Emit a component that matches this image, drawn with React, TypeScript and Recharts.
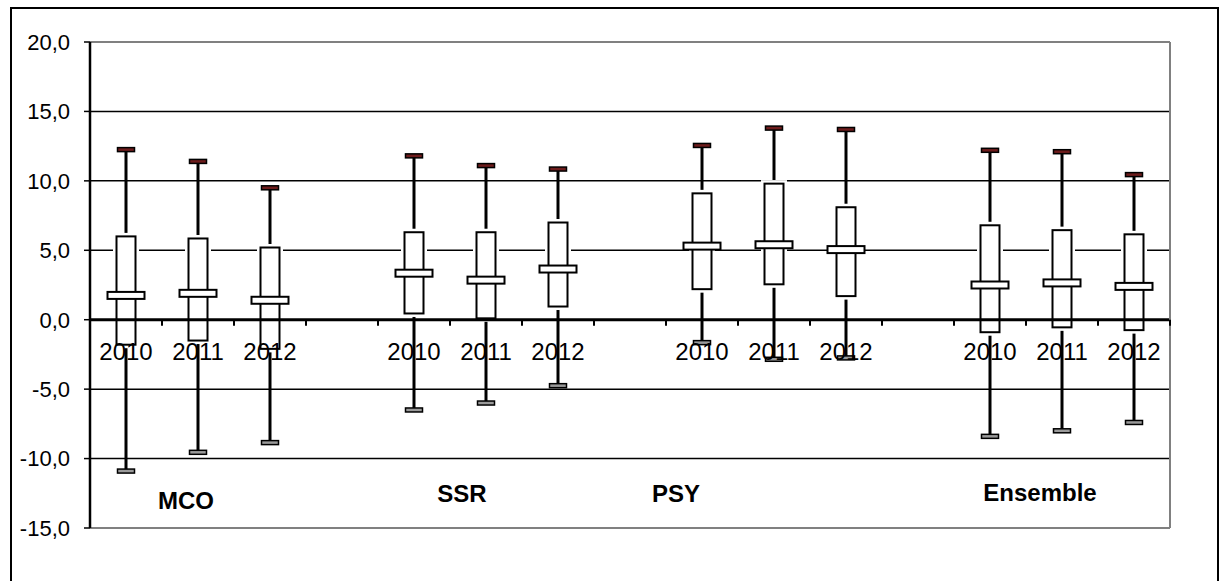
import React from 'react'
import { Bar, CartesianGrid, ComposedChart, ReferenceLine, XAxis, YAxis } from 'recharts'

// one slot per category, empty slots separate the groups
const yearLabels = ['2010', '2011', '2012', '', '2010', '2011', '2012', '', '2010', '2011', '2012', '', '2010', '2011', '2012']
const highs = [12.25, 11.4, 9.5, null, 11.8, 11.1, 10.85, null, 12.55, 13.8, 13.7, null, 12.2, 12.1, 10.45]
const q3s = [6.0, 5.85, 5.2, null, 6.3, 6.3, 7.0, null, 9.1, 9.8, 8.1, null, 6.8, 6.45, 6.15]
const medians = [1.75, 1.9, 1.4, null, 3.35, 2.85, 3.65, null, 5.3, 5.4, 5.05, null, 2.5, 2.65, 2.4]
const q1s = [-1.8, -1.5, -2.1, null, 0.45, 0.1, 0.95, null, 2.2, 2.55, 1.7, null, -0.9, -0.55, -0.75]
const lows = [-10.9, -9.55, -8.85, null, -6.5, -6.0, -4.75, null, -1.65, -2.85, -2.75, null, -8.4, -8.0, -7.4]
const groupNames = ['MCO', 'SSR', 'PSY', 'Ensemble']
const yTicks = [-15, -10, -5, 0, 5, 10, 15, 20]

const data = yearLabels.map((year, i) => ({
  key: 'c' + i,
  year,
  high: highs[i],
  q3: q3s[i],
  median: medians[i],
  q1: q1s[i],
  low: lows[i],
  range: highs[i] == null ? null : [lows[i], highs[i]],
}))

const CHART_W = 1205
const CHART_H = 570
const margin = { top: 33, right: 46, left: 0, bottom: 50 }
const Y_AXIS_W = 78
const Y_MIN = yTicks[0]
const Y_MAX = yTicks[yTicks.length - 1]
const PLOT_W = CHART_W - margin.left - margin.right - Y_AXIS_W - 1
const PLOT_H = CHART_H - margin.top - margin.bottom - 1
const BAND = PLOT_W / yearLabels.length
const ZERO_Y = margin.top + (PLOT_H * Y_MAX) / (Y_MAX - Y_MIN)
const FONT = '"Liberation Sans", Arial, sans-serif'

// label positions of the group names (page coordinates)
const groupLabelPos = [
  { left: 186, top: 501 },
  { left: 462, top: 494 },
  { left: 676, top: 494 },
  { left: 1040, top: 493 },
]

function BoxShape(props: any) {
  const { x, y, width, height, payload } = props
  if (payload == null || payload.high == null) return null
  const top = Math.min(y, y + height)
  const bottom = Math.max(y, y + height)
  const k = (bottom - top) / (payload.high - payload.low)
  const py = (v: number) => top + (payload.high - v) * k
  const cx = x + width / 2
  const boxW = 19
  const medW = 37
  const capW = 17
  return (
    <g>
      <line x1={cx} x2={cx} y1={py(payload.high)} y2={py(payload.low)} stroke='#000' strokeWidth={3} />
      <rect x={cx - boxW / 2} y={py(payload.q3)} width={boxW} height={py(payload.q1) - py(payload.q3)}
        fill='#fff' stroke='#fff' strokeWidth={7} />
      <rect x={cx - boxW / 2} y={py(payload.q3)} width={boxW} height={py(payload.q1) - py(payload.q3)}
        fill='#fff' stroke='#000' strokeWidth={2} />
      <rect x={cx - medW / 2} y={py(payload.median) - 3.5} width={medW} height={7}
        fill='#fff' stroke='#000' strokeWidth={2} />
      <rect x={cx - capW / 2} y={py(payload.high) - 2} width={capW} height={4}
        fill='#6e1c1c' stroke='#000' strokeWidth={1.5} />
      <rect x={cx - capW / 2} y={py(payload.low) - 2} width={capW} height={4}
        fill='#9a9a9a' stroke='#000' strokeWidth={1.5} />
    </g>
  )
}

function YearTick(props: any) {
  const { x, index } = props
  const last = index === yearLabels.length - 1
  return (
    <g>
      <line x1={x - BAND / 2} x2={x - BAND / 2} y1={ZERO_Y} y2={ZERO_Y + 6} stroke='#000' strokeWidth={2} />
      {last && <line x1={x + BAND / 2} x2={x + BAND / 2} y1={ZERO_Y} y2={ZERO_Y + 6} stroke='#000' strokeWidth={2} />}
      <text x={x} y={ZERO_Y + 40} textAnchor='middle' fontSize={24} fontFamily={FONT} fill='#000'>
        {yearLabels[index]}
      </text>
    </g>
  )
}

export default function App() {
  return (
    <div style={{ fontFamily: FONT }}>
      <div style={{ position: 'absolute', left: 10, top: 7, width: CHART_W, height: CHART_H + 8, border: '2px solid #000', background: '#fff' }}>
        <ComposedChart width={CHART_W} height={CHART_H} data={data} margin={margin} barCategoryGap={0}>
          <CartesianGrid horizontal vertical={false} horizontalValues={[15, 10, 5, -5, -10]} stroke='#000' strokeWidth={1.5} />
          <ReferenceLine y={Y_MAX} stroke='#808080' strokeWidth={2} />
          <ReferenceLine y={0} stroke='#000' strokeWidth={3} />
          <XAxis dataKey='key' interval={0} height={1} tickLine={false}
            axisLine={{ stroke: '#808080', strokeWidth: 2 }} tick={<YearTick />} />
          <YAxis domain={[Y_MIN, Y_MAX]} ticks={yTicks} width={Y_AXIS_W} tickSize={6} tickMargin={14}
            axisLine={{ stroke: '#000', strokeWidth: 2.5 }} tickLine={{ stroke: '#000', strokeWidth: 1.5 }}
            tick={{ fill: '#000', fontSize: 22, fontFamily: FONT }}
            tickFormatter={(v: number) => v.toFixed(1).replace('.', ',')} />
          <YAxis yAxisId='right' orientation='right' domain={[Y_MIN, Y_MAX]} ticks={yTicks} width={1}
            tick={false} tickLine={false} axisLine={{ stroke: '#808080', strokeWidth: 2 }} />
          <Bar dataKey='range' shape={<BoxShape />} isAnimationActive={false} />
        </ComposedChart>
      </div>
      {groupNames.map((name, i) => (
        <div key={name} style={{
          position: 'absolute', left: groupLabelPos[i].left, top: groupLabelPos[i].top,
          transform: 'translate(-50%, -50%)', fontWeight: 'bold', fontSize: 24, color: '#000', whiteSpace: 'nowrap',
        }}>{name}</div>
      ))}
    </div>
  )
}
